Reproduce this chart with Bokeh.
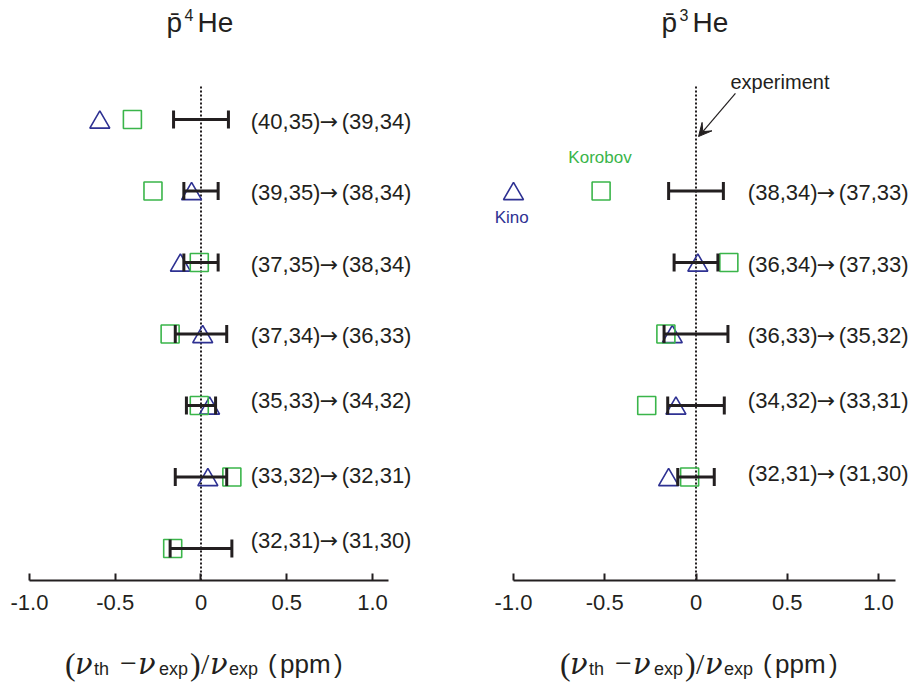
from bokeh.plotting import figure
from bokeh.models import (Range1d, LinearAxis, FixedTicker, Label, Arrow, VeeHead,
                          Whisker, TeeHead, ColumnDataSource)
from bokeh.layouts import row, column
from bokeh.embed import file_html
from bokeh.resources import INLINE
from bokeh.core.properties import value

NaN = float("nan")

# ---- antiprotonic 4He: transitions (n,l)->(n',l'), listed top to bottom ----
he4_rows = [1, 2, 3, 4, 5, 6, 7]
he4_from = ["(40,35)", "(39,35)", "(37,35)", "(37,34)", "(35,33)", "(33,32)", "(32,31)"]
he4_to = ["(39,34)", "(38,34)", "(38,34)", "(36,33)", "(34,32)", "(32,31)", "(31,30)"]
he4_exp_err = [0.16, 0.10, 0.10, 0.15, 0.085, 0.15, 0.18]      # experimental uncertainty (ppm)
he4_kino = [-0.59, -0.055, -0.12, 0.01, 0.05, 0.04, NaN]       # Kino et al. (ppm)
he4_korobov = [-0.40, -0.28, -0.01, -0.18, -0.01, 0.18, -0.165]  # Korobov (ppm)

# ---- antiprotonic 3He ----
he3_rows = [2, 3, 4, 5, 6]
he3_from = ["(38,34)", "(36,34)", "(36,33)", "(34,32)", "(32,31)"]
he3_to = ["(37,33)", "(37,33)", "(35,32)", "(33,31)", "(31,30)"]
he3_exp_err = [0.15, 0.12, 0.175, 0.155, 0.10]
he3_kino = [-1.00, 0.01, -0.13, -0.11, -0.15]
he3_korobov = [-0.52, 0.18, -0.165, -0.27, -0.035]

ticks = [-1.0, -0.5, 0.0, 0.5, 1.0]
tick_labels = ["-1.0", "-0.5", "0", "0.5", "1.0"]

# ---- styling / layout ----
DARK = "#231f20"
NAVY = "#2e3192"
GREEN = "#3ab54a"
SANS = "Liberation Sans"
SERIF = "Liberation Serif"
ARROW_FONT = "DejaVu Sans"

FIG_W, FIG_H = 455, 627
AXIS_PANEL = 47
FRAME_H = FIG_H - AXIS_PANEL
CAPTION_H = 60
ROW_PX = 71.5                       # pixels between transition rows
ROW_TOP = -119.0 / ROW_PX + 1       # row coordinate at the top of the frame
ROW_BOTTOM = ROW_TOP + FRAME_H / ROW_PX
TRI_SHIFT = 2.9 / ROW_PX            # centre the triangle's box on its row
LINE_TOP = 0.538                    # upper end of the dotted zero line


def heading(p, zero_px, dx, base_y, text, size):
    p.add_layout(Label(x=zero_px + dx, y=FRAME_H - base_y, x_units="screen", y_units="screen",
                       text=text, text_font=SANS, text_font_size=f"{size}px",
                       text_color=DARK, text_align="left", text_baseline="alphabetic"))


def make_panel(rows, t_from, t_to, label_dy, err, kino, korobov, x_lo, x_hi, label_x, mass):
    p = figure(width=FIG_W, height=FIG_H, x_range=Range1d(x_lo, x_hi),
               y_range=Range1d(ROW_BOTTOM, ROW_TOP),
               output_backend="svg", toolbar_location=None,
               x_axis_location=None, y_axis_location=None,
               min_border_left=0, min_border_right=0, min_border_top=0,
               min_border_bottom=AXIS_PANEL, outline_line_color=None, title=None)
    p.grid.visible = False
    zero_px = (0 - x_lo) / (x_hi - x_lo) * FIG_W

    src = ColumnDataSource(dict(
        row=rows,
        lo=[-e for e in err],
        hi=err,
        kino=kino,
        kino_y=[r + TRI_SHIFT for r in rows],
        korobov=korobov,
        t_from=t_from,
        t_to=t_to,
        arrow=["\u2192"] * len(rows),
        label_y=[r + d / ROW_PX for r, d in zip(rows, label_dy)],
    ))

    # experiment reference line
    p.segment(x0=0, y0=LINE_TOP, x1=0, y1=ROW_BOTTOM, line_color=DARK,
              line_width=2, line_dash="2 2")

    # experimental error bars
    p.add_layout(Whisker(source=src, base="row", lower="lo", upper="hi", dimension="width",
                         line_color=DARK, line_width=3, level="glyph",
                         lower_head=TeeHead(size=18, line_color=DARK, line_width=3),
                         upper_head=TeeHead(size=18, line_color=DARK, line_width=3)))

    # theory values
    p.scatter(x="kino", y="kino_y", source=src, marker="triangle", size=20,
              fill_color=None, line_color=NAVY, line_width=1.6)
    p.scatter(x="korobov", y="row", source=src, marker="square", size=18,
              fill_color=None, line_color=GREEN, line_width=1.6)

    # transition labels: initial state, arrow, final state
    common = dict(y="label_y", source=src, text_font_size="22px", text_color=DARK,
                  text_align="left", text_baseline="middle", y_offset=1.5)
    p.text(x=label_x, text="t_from", text_font=value(SANS), **common)
    p.text(x=label_x, text="arrow", text_font=value(ARROW_FONT), x_offset=69, **common)
    p.text(x=label_x, text="t_to", text_font=value(SANS), x_offset=91, **common)

    axis = LinearAxis(ticker=FixedTicker(ticks=ticks),
                      major_label_overrides=dict(zip(ticks, tick_labels)),
                      bounds=(-1.0, 1.093),
                      axis_line_color=DARK, axis_line_width=2,
                      major_tick_line_color=DARK, major_tick_line_width=2,
                      major_tick_in=7, major_tick_out=0,
                      minor_tick_line_color=None,
                      major_label_text_font=SANS, major_label_text_font_size="22px",
                      major_label_text_color=DARK, major_label_standoff=14)
    p.add_layout(axis, "below")

    # panel heading: p-bar with mass number
    heading(p, zero_px, -34.5, 22, "p\u0304", 28)
    heading(p, zero_px, -16.5, 14, mass, 16)
    heading(p, zero_px, -3.5, 22, "He", 28)
    return p, zero_px


left, zero_l = make_panel(he4_rows, he4_from, he4_to, [0, 0, 0, 0, -7, -3, -10],
                          he4_exp_err, he4_kino, he4_korobov,
                          -1.1691, 1.4840, 0.29, "4")

right, zero_r = make_panel(he3_rows, he3_from, he3_to, [0, 0, 0, -7, -5],
                           he3_exp_err, he3_kino, he3_korobov,
                           -1.3178, 1.1753, 0.284, "3")

# legend-like annotations in the 3He panel
right.add_layout(Label(x=0.189, y=0.4825, text="experiment", text_font=SANS,
                       text_font_size="20px", text_color=DARK, text_align="left",
                       text_baseline="middle"))
right.add_layout(Arrow(end=VeeHead(size=13, fill_color=DARK, line_color=DARK, line_width=1),
                       x_start=0.216, y_start=0.636, x_end=0.014, y_end=1.238,
                       line_color=DARK, line_width=1.2))
right.add_layout(Label(x=-0.526, y=1.53, text="Korobov", text_font=SANS,
                       text_font_size="17px", text_color=GREEN, text_align="center",
                       text_baseline="middle"))
right.add_layout(Label(x=-1.01, y=2.37, text="Kino", text_font=SANS,
                       text_font_size="17px", text_color=NAVY, text_align="center",
                       text_baseline="middle"))

# ---- x-axis caption strip: (nu_th - nu_exp)/nu_exp (ppm) under each panel ----
cap = figure(width=2 * FIG_W, height=CAPTION_H, x_range=Range1d(0, 2 * FIG_W),
             y_range=Range1d(CAPTION_H, 0), output_backend="svg", toolbar_location=None,
             x_axis_location=None, y_axis_location=None,
             min_border_left=0, min_border_right=0, min_border_top=0, min_border_bottom=0,
             outline_line_color=None, title=None)
cap.grid.visible = False

MAIN_Y = 36     # baseline of the main characters within the strip
SUB_Y = 41      # baseline of the subscripts
caption = [
    # (text, dx from zero, baseline, font, size, style)
    ("(", -136.0, MAIN_Y, SERIF, 32, "normal"),
    ("\u03bd", -126.0, MAIN_Y, "DejaVu Serif", 29, "italic"),
    ("th", -107.0, SUB_Y, SANS, 18, "normal"),
    ("\u2212", -81.0, MAIN_Y, SERIF, 30, "normal"),
    ("\u03bd", -63.0, MAIN_Y, "DejaVu Serif", 29, "italic"),
    ("exp", -42.0, SUB_Y, SANS, 18, "normal"),
    (")", -11.0, MAIN_Y, SERIF, 32, "normal"),
    ("/", 0.0, MAIN_Y, SERIF, 30, "normal"),
    ("\u03bd", 9.0, MAIN_Y, "DejaVu Serif", 29, "italic"),
    ("exp", 28.0, SUB_Y, SANS, 18, "normal"),
    ("(", 67.0, MAIN_Y, SANS, 26, "normal"),
    ("ppm", 79.0, MAIN_Y, SANS, 26, "normal"),
    (")", 133.0, MAIN_Y, SANS, 26, "normal"),
]
for zero in (zero_l, FIG_W + zero_r):
    for text, dx, base, font, size, style in caption:
        cap.text(x=[zero + dx], y=[base], text=[text], text_font=value(font),
                 text_font_size=f"{size}px", text_font_style=style, text_color=DARK,
                 text_align="left", text_baseline="alphabetic")

layout = column(row(left, right), cap)
open("out.html", "w").write(file_html(layout, INLINE))
